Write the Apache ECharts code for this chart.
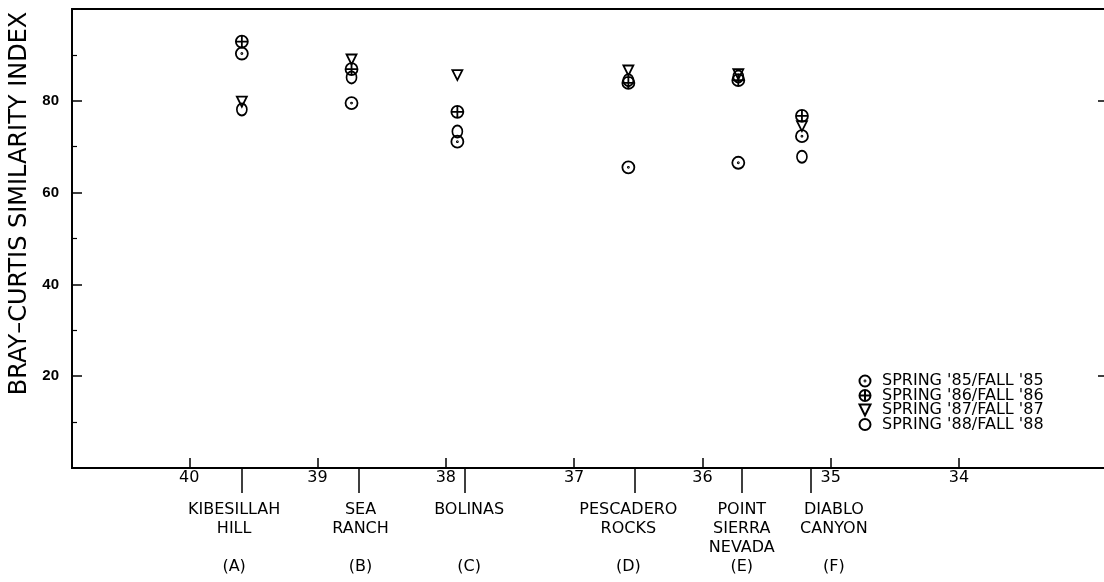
<!DOCTYPE html>
<html>
<head>
<meta charset="utf-8">
<script src="https://cdn.jsdelivr.net/npm/echarts@6/dist/echarts.min.js"></script>
<style>
  html, body { margin: 0; padding: 0; background: #fff; }
  #main { width: 1104px; height: 582px; }
</style>
</head>
<body>
<div id="main"></div>
<script type="text/javascript">
    // sites, north to south
    var siteNames = ['KIBESILLAH\nHILL', 'SEA\nRANCH', 'BOLINAS', 'PESCADERO\nROCKS', 'POINT\nSIERRA\nNEVADA', 'DIABLO\nCANYON'];
    var siteCodes = ['(A)', '(B)', '(C)', '(D)', '(E)', '(F)'];
    var siteLat = [39.59, 38.675, 37.852, 36.53, 35.693, 35.154];     // tick under axis
    var labelLat = [39.65, 38.665, 37.818, 36.577, 35.693, 34.975];   // where the names sit
    var plotLat = [39.59, 38.735, 37.91, 36.577, 35.72, 35.224];      // where the points were plotted
    var latTicks = [34, 35, 36, 37, 38, 39, 40];

    var seriesNames = ["SPRING '85/FALL '85", "SPRING '86/FALL '86", "SPRING '87/FALL '87", "SPRING '88/FALL '88"];
    var bc85 = [90.3, 79.5, 71.1, 65.5, 66.5, 72.3];
    var bc86 = [92.9, 86.9, 77.6, 83.9, 84.5, 76.7];
    var bc87 = [79.8, 89.0, 85.6, 86.6, 85.8, 74.5];
    var bc88 = [78.1, 85.1, 73.3, 84.5, 85.3, 67.8];

    var circ = 'M0,-6A6,6 0 1,1 0,6A6,6 0 1,1 0,-6Z';
    var symbols = [
        { s: 'path://' + circ + 'M-0.5,0A0.5,0.5 0 1,1 0.5,0A0.5,0.5 0 1,1 -0.5,0Z', size: 12 },
        { s: 'path://' + circ + 'M-6,0L6,0M0,-6L0,6', size: 12 },
        { s: 'path://M-5,-5L5,-5L0,5Z', size: [10, 10] },
        { s: 'path://' + circ, size: [10, 12] }
    ];

    function pairs(vals) {
        var out = [];
        for (var i = 0; i < vals.length; i++) out.push([plotLat[i], vals[i]]);
        return out;
    }

    var myChart = echarts.init(document.getElementById('main'), null, { renderer: 'canvas' });

    var font = 'DejaVu Sans';
    var allVals = [bc85, bc86, bc87, bc88];
    var series = [];
    for (var k = 0; k < 4; k++) {
        series.push({
            name: seriesNames[k],
            type: 'scatter',
            xAxisIndex: 0,
            yAxisIndex: 0,
            symbol: symbols[k].s,
            symbolSize: symbols[k].size,
            itemStyle: { color: 'none', borderColor: '#000', borderWidth: 1.8, opacity: 1 },
            data: pairs(allVals[k])
        });
    }

    var option = {
        animation: false,
        backgroundColor: '#fff',
        grid: {
            left: 72, top: 9, right: -3, bottom: 114,
            outerBoundsMode: 'none',
            containLabel: false,
            show: true, borderColor: '#000', borderWidth: 1.8, backgroundColor: 'transparent'
        },
        legend: {
            orient: 'vertical',
            left: 852,
            top: 368,
            itemWidth: 12,
            itemHeight: 11,
            itemGap: -1.5,
            data: seriesNames,
            textStyle: { fontFamily: font, fontSize: 16, color: '#000', lineHeight: 13, padding: [0, 0, 0, 6] }
        },
        xAxis: [{
            type: 'value',
            inverse: true,
            min: 32.846,
            max: 40.914,
            position: 'bottom',
            axisLine: { show: true, lineStyle: { color: '#000', width: 1.8 } },
            axisTick: { show: true, inside: true, length: 10, customValues: latTicks, lineStyle: { color: '#000', width: 1.5 } },
            axisLabel: { show: true, customValues: latTicks, margin: 2, color: '#000', fontFamily: font, fontSize: 16 },
            splitLine: { show: false }
        }, {
            type: 'value',
            inverse: true,
            min: 32.846,
            max: 40.914,
            position: 'bottom',
            axisLine: { show: false },
            axisTick: { show: true, inside: false, length: 25, customValues: siteLat, lineStyle: { color: '#000', width: 1.5 } },
            axisLabel: {
                show: true,
                customValues: labelLat,
                margin: 32,
                color: '#000',
                fontFamily: font,
                fontSize: 16,
                lineHeight: 19,
                align: 'center',
                verticalAlign: 'top',
                formatter: function (v) {
                    for (var i = 0; i < labelLat.length; i++) {
                        if (Math.abs(labelLat[i] - v) < 1e-6) {
                            var lines = siteNames[i].split('\n');
                            while (lines.length < 3) lines.push('');
                            return lines.join('\n') + '\n' + siteCodes[i];
                        }
                    }
                    return '';
                }
            },
            splitLine: { show: false }
        }],
        yAxis: [{
            type: 'value',
            min: 0,
            max: 100,
            interval: 20,
            name: 'BRAY\u2013CURTIS SIMILARITY INDEX',
            nameLocation: 'middle',
            nameRotate: 90,
            nameGap: 39,
            nameTextStyle: { fontFamily: font, fontSize: 24, color: '#000', padding: [0, 0, 0, 70] },
            axisLine: { show: true, lineStyle: { color: '#000', width: 1.8 } },
            axisTick: { show: true, inside: true, length: 10, lineStyle: { color: '#000', width: 1.5 } },
            minorTick: { show: true, splitNumber: 2, length: 5, lineStyle: { color: '#000', width: 1.2 } },
            axisLabel: {
                margin: 13,
                color: '#000',
                fontFamily: 'Liberation Sans',
                fontWeight: 'bold',
                fontSize: 15,
                formatter: function (v) { return (v === 0 || v === 100) ? '' : v; }
            },
            splitLine: { show: false }
        }, {
            type: 'value',
            min: 0,
            max: 100,
            position: 'right',
            axisLine: { show: false },
            axisTick: { show: true, inside: true, length: 9, customValues: [20, 80], lineStyle: { color: '#000', width: 1.5 } },
            axisLabel: { show: false },
            splitLine: { show: false }
        }],
        series: series
    };

    myChart.setOption(option);
</script>
</body>
</html>
